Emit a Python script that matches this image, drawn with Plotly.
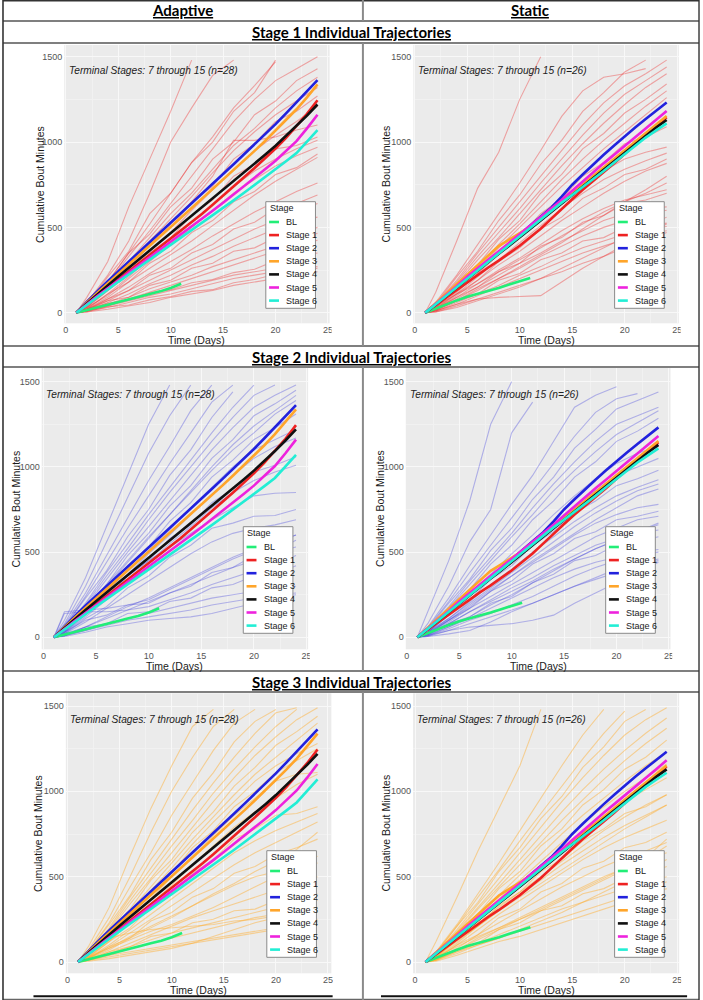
import plotly.graph_objects as go

# ---------------- data ----------------
DAYS = list(range(1, 25))
BL_DAYS = list(range(1, 12))
IND_DAYS = [1, 2, 4, 6, 8, 10, 12, 14, 16, 18, 20, 22, 24]
STAGE_NAMES = ["BL", "Stage 1", "Stage 2", "Stage 3", "Stage 4", "Stage 5", "Stage 6"]
X_TICKS = [0, 5, 10, 15, 20, 25]
Y_TICKS = [0, 500, 1000, 1500]

# Adaptive group mean trajectories
adaptive_bl = [0, 15, 30, 45, 62, 78, 94, 110, 125, 145, 170]
adaptive_s1 = [0, 50, 100, 148, 195, 242, 290, 338, 385, 432, 480, 530, 580, 632, 685, 738, 792, 848, 905, 962, 1025, 1092, 1165, 1245]
adaptive_s2 = [0, 65, 125, 185, 242, 298, 354, 410, 466, 522, 580, 638, 696, 754, 812, 870, 928, 986, 1045, 1105, 1168, 1232, 1297, 1363]
adaptive_s3 = [0, 60, 116, 172, 228, 283, 338, 393, 448, 502, 557, 612, 667, 722, 777, 833, 890, 948, 1006, 1066, 1127, 1192, 1262, 1338]
adaptive_s4 = [0, 55, 108, 160, 212, 263, 314, 365, 415, 465, 515, 565, 615, 666, 717, 768, 820, 872, 925, 978, 1035, 1093, 1155, 1220]
adaptive_s5 = [0, 50, 97, 143, 188, 233, 278, 323, 368, 413, 458, 504, 550, 597, 644, 692, 740, 790, 840, 890, 945, 1005, 1080, 1160]
adaptive_s6 = [0, 46, 92, 137, 181, 224, 267, 310, 353, 396, 439, 482, 526, 570, 614, 658, 703, 748, 794, 840, 887, 935, 1000, 1070]

# Static group mean trajectories
static_bl = [0, 25, 50, 72, 94, 110, 125, 145, 165, 185, 203]
static_s1 = [0, 45, 90, 135, 180, 225, 265, 305, 348, 392, 442, 492, 550, 610, 665, 720, 770, 820, 875, 930, 988, 1043, 1095, 1145]
static_s2 = [0, 50, 100, 150, 200, 250, 300, 350, 402, 458, 510, 562, 615, 680, 750, 810, 870, 925, 980, 1035, 1085, 1135, 1185, 1232]
static_s3 = [0, 55, 110, 165, 225, 280, 335, 390, 428, 465, 505, 550, 600, 650, 700, 750, 800, 855, 905, 955, 1005, 1055, 1105, 1152]
static_s4 = [0, 50, 100, 150, 200, 250, 300, 345, 392, 440, 490, 540, 590, 640, 690, 740, 790, 840, 890, 937, 985, 1035, 1085, 1129]
static_s5 = [0, 50, 100, 155, 210, 260, 310, 360, 410, 460, 505, 555, 605, 660, 715, 770, 825, 875, 925, 975, 1030, 1080, 1130, 1182]
static_s6 = [0, 50, 100, 150, 200, 250, 300, 350, 397, 445, 495, 545, 595, 645, 690, 735, 782, 830, 880, 930, 978, 1026, 1068, 1109]

# Individual trajectories (values at IND_DAYS; shorter lists leave the plot at the top)
adaptive_stage1_people = [
    [0, 90, 300, 620, 900, 1180, 1480],
    [0, 60, 220, 420, 700, 1000, 1200, 1390, 1480],
    [0, 50, 210, 360, 580, 700, 880, 1000, 1180, 1290, 1480],
    [0, 70, 180, 350, 520, 700, 880, 1030, 1200, 1330, 1470],
    [0, 40, 170, 330, 480, 640, 800, 960, 1120, 1250, 1360, 1430, 1500],
    [0, 70, 180, 350, 460, 620, 730, 900, 1000, 1160, 1240, 1360, 1430],
    [0, 30, 150, 300, 440, 580, 700, 840, 980, 1080, 1200, 1300, 1380],
    [0, 50, 160, 290, 420, 550, 680, 820, 950, 1060, 1160, 1240, 1320],
    [0, 40, 150, 250, 400, 500, 650, 740, 900, 990, 1120, 1180, 1270],
    [0, 35, 130, 240, 360, 470, 600, 720, 840, 950, 1040, 1120, 1210],
    [0, 45, 150, 280, 400, 520, 650, 800, 1010, 1010, 1030, 1070, 1100],
    [0, 30, 130, 220, 350, 440, 570, 660, 800, 870, 960, 980, 1030],
    [0, 20, 110, 210, 320, 420, 530, 630, 740, 830, 900, 960, 1010],
    [0, 30, 100, 200, 300, 400, 500, 600, 700, 780, 860, 920, 970],
    [0, 25, 110, 180, 290, 360, 470, 540, 650, 710, 810, 850, 930],
    [0, 20, 90, 180, 260, 340, 420, 510, 600, 690, 770, 840, 910],
    [0, 20, 80, 150, 230, 300, 370, 450, 520, 590, 650, 710, 760],
    [0, 15, 80, 130, 220, 260, 350, 400, 490, 530, 610, 640, 690],
    [0, 20, 70, 130, 190, 250, 310, 370, 430, 490, 540, 590, 640],
    [0, 10, 60, 110, 170, 220, 280, 330, 390, 440, 490, 530, 560],
    [0, 15, 70, 90, 160, 190, 260, 290, 360, 380, 440, 460, 500],
    [0, 10, 50, 90, 140, 180, 220, 270, 310, 350, 390, 430, 465],
    [0, 10, 40, 80, 120, 160, 200, 240, 280, 320, 360, 390, 425],
    [0, 20, 55, 75, 115, 135, 175, 195, 235, 255, 305, 325, 350],
    [0, 10, 40, 70, 100, 130, 160, 190, 220, 240, 260, 280, 300],
    [0, 10, 30, 60, 90, 110, 140, 170, 200, 220, 240, 260, 270],
    [0, 5, 35, 45, 75, 95, 125, 135, 175, 195, 225, 235, 260],
    [0, 5, 20, 40, 60, 90, 110, 130, 160, 180, 200, 220, 240],
]

adaptive_stage2_people = [
    [0, 100, 350, 650, 950, 1250, 1480],
    [0, 80, 300, 560, 820, 1080, 1300, 1480],
    [0, 70, 260, 480, 700, 920, 1120, 1330, 1480],
    [0, 60, 240, 440, 640, 830, 1020, 1200, 1380, 1480],
    [0, 60, 230, 390, 590, 750, 950, 1100, 1290, 1440],
    [0, 50, 200, 380, 550, 720, 880, 1040, 1200, 1350, 1480],
    [0, 50, 190, 360, 520, 690, 850, 1000, 1150, 1290, 1420, 1480],
    [0, 45, 180, 340, 500, 650, 800, 950, 1100, 1230, 1350, 1420, 1480],
    [0, 40, 180, 310, 480, 610, 770, 890, 1050, 1160, 1300, 1370, 1450],
    [0, 40, 160, 300, 440, 580, 720, 860, 1000, 1130, 1240, 1330, 1420],
    [0, 45, 170, 310, 450, 590, 720, 850, 980, 1100, 1200, 1310, 1390],
    [0, 40, 160, 270, 420, 530, 680, 790, 940, 1040, 1160, 1230, 1310],
    [0, 35, 140, 270, 390, 510, 630, 760, 880, 1000, 1100, 1160, 1220],
    [0, 30, 130, 250, 370, 490, 600, 720, 840, 950, 1050, 1120, 1170],
    [0, 30, 140, 230, 360, 450, 580, 660, 790, 870, 970, 1010, 1060],
    [0, 25, 120, 220, 330, 440, 550, 650, 760, 850, 920, 970, 1010],
    [0, 40, 150, 260, 360, 450, 530, 610, 690, 760, 830, 845, 850],
    [0, 20, 110, 180, 290, 360, 470, 540, 640, 670, 710, 715, 750],
    [0, 20, 90, 170, 250, 330, 410, 490, 560, 610, 640, 660, 690],
    [0, 150, 160, 170, 190, 220, 280, 340, 400, 460, 510, 550, 600],
    [0, 30, 100, 130, 190, 200, 260, 300, 380, 410, 480, 510, 570],
    [0, 10, 60, 110, 160, 210, 260, 310, 360, 410, 450, 500, 530],
    [0, 140, 150, 150, 160, 180, 220, 260, 310, 350, 390, 430, 480],
    [0, 20, 60, 80, 140, 150, 210, 230, 290, 310, 360, 370, 420],
    [0, 10, 40, 80, 110, 140, 170, 200, 230, 250, 270, 290, 300],
    [0, 10, 40, 70, 100, 120, 140, 160, 190, 210, 230, 250, 260],
    [0, 5, 30, 60, 80, 100, 110, 120, 140, 170, 200, 230, 250],
    [0, 10, 60, 120, 180, 230, 290, 350, 410, 470, 520, 560, 600],
]

adaptive_stage3_people = [
    [0, 90, 320, 620, 900, 1150, 1380, 1480],
    [0, 70, 260, 500, 760, 1000, 1200, 1380, 1480],
    [0, 60, 230, 440, 640, 860, 1050, 1240, 1400, 1480],
    [0, 60, 220, 390, 600, 760, 960, 1110, 1290, 1410, 1480],
    [0, 50, 200, 380, 550, 720, 890, 1050, 1200, 1340, 1460, 1490],
    [0, 50, 190, 360, 520, 680, 830, 990, 1130, 1260, 1380, 1480],
    [0, 45, 180, 340, 490, 640, 790, 940, 1080, 1210, 1320, 1420, 1490],
    [0, 40, 180, 310, 480, 600, 760, 880, 1030, 1140, 1270, 1350, 1440],
    [0, 40, 160, 300, 440, 580, 720, 850, 980, 1100, 1200, 1300, 1400],
    [0, 40, 150, 290, 420, 550, 690, 820, 940, 1060, 1150, 1220, 1280],
    [0, 35, 150, 260, 410, 520, 670, 770, 910, 1000, 1110, 1180, 1250],
    [0, 30, 130, 250, 370, 500, 620, 740, 860, 960, 1060, 1100, 1110],
    [0, 30, 120, 230, 340, 450, 570, 680, 790, 880, 960, 1040, 1100],
    [0, 25, 120, 200, 320, 400, 520, 600, 720, 780, 860, 870, 910],
    [0, 25, 100, 190, 280, 370, 460, 550, 640, 710, 770, 820, 870],
    [0, 20, 90, 170, 250, 330, 410, 490, 570, 640, 700, 760, 820],
    [0, 20, 90, 140, 240, 290, 380, 430, 520, 560, 630, 670, 720],
    [0, 20, 70, 140, 200, 260, 330, 390, 450, 500, 530, 560, 580],
    [0, 15, 60, 110, 160, 210, 260, 300, 340, 380, 420, 470, 500],
    [0, 15, 60, 90, 150, 170, 230, 250, 300, 310, 360, 370, 400],
    [0, 10, 50, 90, 130, 170, 200, 230, 260, 290, 320, 340, 360],
    [0, 10, 40, 80, 110, 140, 170, 200, 230, 260, 280, 300, 320],
    [0, 60, 140, 170, 190, 200, 210, 220, 240, 250, 270, 290, 300],
    [0, 10, 40, 60, 80, 100, 120, 140, 160, 180, 200, 220, 250],
    [0, 10, 30, 50, 70, 90, 110, 130, 150, 170, 190, 210, 240],
    [0, 5, 20, 40, 60, 80, 110, 150, 190, 230, 260, 280, 290],
    [0, 30, 80, 130, 180, 220, 270, 320, 380, 440, 500, 560, 620],
    [0, 20, 80, 150, 210, 270, 330, 400, 460, 530, 590, 660, 760],
]

static_stage1_people = [
    [0, 120, 420, 730, 940, 1250, 1500],
    [0, 60, 220, 400, 580, 760, 950, 1150, 1300, 1380, 1400, 1430],
    [0, 50, 210, 360, 540, 690, 870, 1010, 1180, 1290, 1410, 1480],
    [0, 50, 190, 350, 500, 650, 800, 950, 1100, 1230, 1330, 1400, 1480],
    [0, 45, 180, 330, 470, 610, 760, 900, 1040, 1170, 1280, 1360, 1440],
    [0, 40, 170, 310, 440, 580, 720, 860, 990, 1110, 1220, 1320, 1400],
    [0, 40, 170, 280, 430, 540, 700, 810, 960, 1050, 1170, 1250, 1340],
    [0, 35, 150, 270, 400, 520, 650, 780, 900, 1010, 1110, 1210, 1300],
    [0, 30, 140, 260, 380, 500, 620, 740, 850, 960, 1060, 1160, 1260],
    [0, 30, 140, 230, 360, 450, 580, 670, 800, 880, 990, 1030, 1090],
    [0, 30, 120, 230, 340, 450, 550, 650, 750, 830, 900, 940, 970],
    [0, 25, 110, 210, 310, 410, 510, 610, 700, 780, 840, 890, 935],
    [0, 25, 110, 190, 300, 380, 490, 560, 670, 730, 810, 840, 900],
    [0, 20, 100, 190, 280, 360, 450, 540, 620, 700, 770, 830, 875],
    [0, 20, 90, 170, 250, 320, 400, 480, 550, 610, 660, 690, 720],
    [0, 20, 90, 150, 240, 290, 390, 440, 530, 570, 640, 660, 700],
    [0, 15, 80, 150, 220, 290, 350, 420, 480, 540, 580, 610, 620],
    [0, 15, 70, 140, 200, 260, 330, 390, 450, 500, 540, 580, 600],
    [0, 15, 70, 110, 190, 230, 310, 350, 420, 440, 500, 505, 525],
    [0, 10, 60, 110, 160, 220, 270, 330, 380, 420, 460, 490, 505],
    [0, 10, 50, 100, 150, 200, 250, 300, 350, 390, 430, 460, 480],
    [0, 5, 40, 80, 120, 160, 200, 240, 290, 330, 380, 420, 470],
    [0, 10, 50, 80, 90, 95, 100, 180, 260, 330, 400, 460, 520],
    [0, 40, 110, 170, 240, 310, 380, 450, 520, 590, 650, 700, 760],
    [0, 5, 30, 70, 110, 150, 200, 260, 320, 380, 440, 500, 560],
    [0, 20, 70, 130, 200, 270, 340, 410, 490, 570, 650, 720, 800],
]

static_stage2_people = [
    [0, 150, 450, 800, 1250, 1500],
    [0, 80, 300, 560, 750, 1200, 1380],
    [0, 60, 230, 420, 600, 780, 950, 1150, 1350, 1420, 1470],
    [0, 55, 210, 380, 540, 700, 860, 1020, 1180, 1320, 1400, 1430],
    [0, 50, 200, 340, 510, 640, 810, 940, 1110, 1220, 1340, 1390, 1440],
    [0, 45, 180, 330, 470, 610, 760, 900, 1030, 1150, 1250, 1300, 1350],
    [0, 40, 170, 310, 450, 590, 720, 860, 980, 1090, 1190, 1260, 1330],
    [0, 40, 170, 280, 430, 540, 690, 800, 940, 1030, 1150, 1210, 1285],
    [0, 30, 140, 260, 370, 490, 600, 720, 830, 930, 1020, 1080, 1120],
    [0, 30, 130, 240, 350, 460, 570, 670, 770, 860, 950, 1000, 1050],
    [0, 30, 130, 220, 340, 420, 540, 620, 730, 800, 890, 930, 980],
    [0, 25, 110, 210, 310, 400, 500, 590, 680, 760, 830, 880, 925],
    [0, 20, 100, 190, 280, 360, 440, 520, 600, 670, 720, 760, 780],
    [0, 20, 100, 170, 270, 330, 430, 490, 580, 620, 690, 710, 740],
    [0, 20, 90, 170, 240, 310, 380, 450, 520, 590, 640, 690, 710],
    [0, 15, 80, 150, 220, 290, 350, 420, 480, 540, 580, 610, 630],
    [0, 15, 80, 120, 200, 240, 320, 370, 450, 480, 540, 560, 590],
    [0, 10, 60, 110, 170, 230, 290, 350, 400, 440, 470, 500, 515],
    [0, 10, 50, 100, 140, 190, 240, 300, 360, 410, 450, 480, 500],
    [0, 5, 40, 80, 120, 160, 200, 250, 300, 350, 400, 430, 460],
    [0, 5, 20, 40, 90, 150, 200, 250, 300, 340, 380, 420, 450],
    [0, 10, 40, 60, 70, 80, 100, 130, 200, 260, 320, 380, 440],
    [0, 20, 80, 150, 210, 270, 330, 400, 460, 520, 570, 620, 670],
    [0, 30, 110, 200, 290, 380, 470, 560, 650, 730, 800, 860, 900],
    [0, 15, 60, 120, 190, 250, 320, 390, 460, 520, 570, 620, 660],
    [0, 25, 100, 180, 270, 360, 450, 530, 610, 690, 760, 830, 870],
]

static_stage3_people = [
    [0, 120, 380, 650, 900, 1150, 1480],
    [0, 60, 220, 400, 580, 770, 960, 1150, 1330, 1480],
    [0, 55, 210, 380, 540, 710, 870, 1030, 1190, 1340, 1470],
    [0, 50, 210, 350, 530, 670, 840, 970, 1140, 1260, 1410, 1480],
    [0, 50, 190, 340, 490, 640, 790, 940, 1080, 1210, 1330, 1420, 1490],
    [0, 45, 180, 320, 460, 600, 740, 880, 1010, 1130, 1240, 1340, 1430],
    [0, 40, 170, 310, 440, 570, 700, 830, 950, 1070, 1180, 1280, 1370],
    [0, 40, 170, 280, 430, 530, 680, 780, 920, 1010, 1130, 1200, 1300],
    [0, 35, 150, 270, 390, 510, 630, 750, 860, 960, 1060, 1150, 1230],
    [0, 30, 140, 260, 370, 480, 590, 700, 810, 910, 1000, 1080, 1160],
    [0, 30, 130, 240, 350, 450, 560, 660, 760, 850, 940, 1010, 1080],
    [0, 25, 130, 210, 330, 410, 530, 600, 710, 780, 870, 910, 980],
    [0, 25, 110, 210, 300, 390, 480, 570, 650, 730, 800, 860, 920],
    [0, 20, 100, 190, 280, 360, 440, 520, 600, 670, 730, 780, 830],
    [0, 20, 100, 160, 260, 310, 410, 460, 550, 590, 670, 700, 760],
    [0, 15, 80, 160, 230, 300, 370, 440, 500, 560, 610, 650, 700],
    [0, 15, 70, 140, 200, 260, 320, 380, 440, 500, 550, 600, 640],
    [0, 10, 70, 110, 190, 230, 300, 330, 400, 430, 490, 510, 560],
    [0, 10, 60, 110, 160, 210, 260, 310, 350, 390, 430, 470, 500],
    [0, 10, 50, 100, 140, 180, 220, 260, 300, 340, 380, 420, 470],
    [0, 5, 40, 80, 120, 150, 190, 230, 270, 310, 350, 390, 430],
    [0, 30, 90, 150, 200, 250, 300, 360, 420, 480, 540, 600, 680],
    [0, 20, 70, 130, 190, 250, 310, 370, 430, 490, 550, 610, 720],
    [0, 15, 60, 100, 140, 190, 240, 290, 350, 410, 470, 530, 600],
    [0, 40, 130, 230, 320, 410, 500, 590, 680, 770, 850, 920, 980],
    [0, 35, 120, 210, 300, 380, 460, 540, 620, 700, 780, 850, 920],
]

adaptive_means = [adaptive_bl, adaptive_s1, adaptive_s2, adaptive_s3, adaptive_s4, adaptive_s5, adaptive_s6]
static_means = [static_bl, static_s1, static_s2, static_s3, static_s4, static_s5, static_s6]

# ---------------- style / layout ----------------
W, H = 703, 1000
STAGE_COLORS = ["#22EE77", "#EE2222", "#2222DD", "#FFA52A", "#111111", "#EE22DD", "#22EED5"]
IND_COLORS = {"red": "rgba(238,50,50,0.40)", "blue": "rgba(60,60,220,0.34)", "orange": "rgba(255,170,40,0.45)"}
FONT = "Liberation Sans, Arial, sans-serif"
HEAD_FONT = "Lato, Open Sans, sans-serif"

PANELS = [
    dict(people=adaptive_stage1_people, means=adaptive_means, col="red", n=28,
         left=62.7, right=330, top=45, bottom=323.3, x0=64.3, x25=328.3, y0=312.7, y1500=56.7,
         leg=(265.7, 201.7), ytitle_x=38, clip=332, div=361),
    dict(people=static_stage1_people, means=static_means, col="red", n=26,
         left=414.3, right=681.7, top=45, bottom=323.3, x0=415.7, x25=680, y0=312.7, y1500=56.7,
         leg=(617, 201.7), ytitle_x=387, clip=683.5, div=700),
    dict(people=adaptive_stage2_people, means=adaptive_means, col="blue", n=28,
         left=40, right=308.3, top=368, bottom=649.3, x0=41.7, x25=306.7, y0=637.3, y1500=381.7,
         leg=(243, 526.7), ytitle_x=14, clip=310, div=361),
    dict(people=static_stage2_people, means=static_means, col="blue", n=26,
         left=406.7, right=673.3, top=368, bottom=649.3, x0=407.7, x25=671.7, y0=637.3, y1500=381.7,
         leg=(608, 526.7), ytitle_x=380, clip=675, div=700),
    dict(people=adaptive_stage3_people, means=adaptive_means, col="orange", n=28,
         left=64.3, right=331.7, top=693.3, bottom=973.3, x0=66, x25=328.3, y0=962, y1500=706,
         leg=(266.7, 850.7), ytitle_x=37, clip=333.5, div=361),
    dict(people=static_stage3_people, means=static_means, col="orange", n=26,
         left=414, right=682, top=693.3, bottom=973.3, x0=416, x25=680, y0=962, y1500=706,
         leg=(617, 850.7), ytitle_x=387, clip=684, div=700),
]


def px(x):
    return x / W


def py(y):
    return 1 - y / H


fig = go.Figure()
shapes = []
annotations = []

for i, p in enumerate(PANELS, start=1):
    xa = "x" if i == 1 else f"x{i}"
    ya = "y" if i == 1 else f"y{i}"
    sx = (p["x25"] - p["x0"]) / 25.0
    sy = (p["y0"] - p["y1500"]) / 1500.0
    xr = [(p["left"] - p["x0"]) / sx, (p["right"] - p["x0"]) / sx]
    yr = [(p["y0"] - p["bottom"]) / sy, (p["y0"] - p["top"]) / sy]

    axis_common = dict(showline=False, zeroline=False, gridcolor="#F8F8F8", gridwidth=1,
                       ticks="", tickfont=dict(family=FONT, size=9, color="#555555"),
                       fixedrange=True)
    fig.update_layout(**{
        ("xaxis" if i == 1 else f"xaxis{i}"): dict(
            axis_common, domain=[px(p["left"]), px(p["right"])], range=xr, anchor=ya,
            tickvals=X_TICKS, ticktext=[str(v) for v in X_TICKS],
            minor=dict(tickvals=[2.5, 7.5, 12.5, 17.5, 22.5], showgrid=True, gridcolor="#F1F1F1", gridwidth=0.6)),
        ("yaxis" if i == 1 else f"yaxis{i}"): dict(
            axis_common, domain=[py(p["bottom"]), py(p["top"])], range=yr, anchor=xa,
            tickvals=Y_TICKS, ticktext=[str(v) for v in Y_TICKS], ticklabelstandoff=1,
            minor=dict(tickvals=[250, 750, 1250], showgrid=True, gridcolor="#F1F1F1", gridwidth=0.6)),
    })

    # individual trajectories
    for vals in p["people"]:
        fig.add_trace(go.Scatter(x=IND_DAYS[:len(vals)], y=vals, mode="lines", xaxis=xa, yaxis=ya,
                                 line=dict(color=IND_COLORS[p["col"]], width=1.1), showlegend=False,
                                 hoverinfo="skip"))
    # stage mean trajectories
    for k, vals in enumerate(p["means"]):
        xs = BL_DAYS if k == 0 else DAYS
        fig.add_trace(go.Scatter(x=xs, y=vals, mode="lines", xaxis=xa, yaxis=ya, name=STAGE_NAMES[k],
                                 line=dict(color=STAGE_COLORS[k], width=2.6), showlegend=False))

    # panel texts
    annotations.append(dict(x=px(p["left"] + 2.3), y=py(p["top"] + 26), xref="paper", yref="paper",
                            text=f"<i>Terminal Stages: 7 through 15 (n={p['n']})</i>", showarrow=False,
                            xanchor="left", yanchor="middle", font=dict(family=FONT, size=10.2, color="#222222")))
    annotations.append(dict(x=px((p["left"] + p["right"]) / 2), y=py(p["bottom"] + 16.5), xref="paper", yref="paper",
                            text="Time (Days)", showarrow=False, xanchor="center", yanchor="middle",
                            font=dict(family=FONT, size=10.5, color="#1a1a1a")))
    annotations.append(dict(x=px(p["ytitle_x"]), y=py((p["top"] + p["bottom"]) / 2), xref="paper", yref="paper",
                            text="Cumulative Bout Minutes", showarrow=False, textangle=-90,
                            xanchor="center", yanchor="middle", font=dict(family=FONT, size=10.5, color="#1a1a1a")))

    # cropped edge of the original picture (hides right half of the last tick label)
    shapes.append(dict(type="rect", xref="paper", yref="paper", x0=px(p["clip"]), x1=px(p["div"]),
                       y0=py(p["bottom"] + 14), y1=py(p["bottom"] + 0.5), fillcolor="white",
                       line=dict(width=0), layer="above"))

    # legend box
    lx, ly = p["leg"]
    shapes.append(dict(type="rect", xref="paper", yref="paper", x0=px(lx), x1=px(lx + 50),
                       y0=py(ly + 106.6), y1=py(ly), fillcolor="white",
                       line=dict(color="#8a8a8a", width=1), layer="above"))
    annotations.append(dict(x=px(lx + 2), y=py(ly + 6.5), xref="paper", yref="paper", text="Stage",
                            showarrow=False, xanchor="left", yanchor="middle",
                            font=dict(family=FONT, size=9, color="#1a1a1a")))
    for k, name in enumerate(STAGE_NAMES):
        yy = ly + 20.3 + k * 13.1
        shapes.append(dict(type="line", xref="paper", yref="paper", x0=px(lx + 3.3), x1=px(lx + 13.3),
                           y0=py(yy), y1=py(yy), line=dict(color=STAGE_COLORS[k], width=2.6), layer="above"))
        annotations.append(dict(x=px(lx + 18.5), y=py(yy), xref="paper", yref="paper", text=name,
                                showarrow=False, xanchor="left", yanchor="middle",
                                font=dict(family=FONT, size=9, color="#1a1a1a")))

# ---------------- table frame ----------------
def hline(y, x0=1, x1=702, color="#555555", width=1.5):
    shapes.append(dict(type="line", xref="paper", yref="paper", x0=px(x0), x1=px(x1), y0=py(y), y1=py(y),
                       line=dict(color=color, width=width), layer="above"))


def vline(x, y0, y1, color="#555555", width=1.5):
    shapes.append(dict(type="line", xref="paper", yref="paper", x0=px(x), x1=px(x), y0=py(y0), y1=py(y1),
                       line=dict(color=color, width=width), layer="above"))


hline(0.7, color="#333333", width=1.4)
for yline in [21, 43, 346, 367, 671, 692]:
    hline(yline)
hline(999.3, color="#666666", width=1.2)
vline(1, 0, 1000, color="#333333", width=1.6)
vline(702, 0, 1000, color="#333333", width=1.4)
for (a, b) in [(0, 21), (43, 346), (367, 671), (692, 1000)]:
    vline(363.5, a, b, color="#8a8a8a", width=2)
hline(996.3, x0=31.7, x1=333, color="#111111", width=2)
hline(996.3, x0=381.7, x1=690, color="#111111", width=2)

# headers
HEADERS = [("Adaptive", 182, 10.5), ("Static", 532, 10.5),
           ("Stage 1 Individual Trajectories", 352, 32),
           ("Stage 2 Individual Trajectories", 352, 356.5),
           ("Stage 3 Individual Trajectories", 352, 681.5)]
for txt, hx, hy in HEADERS:
    annotations.append(dict(x=px(hx), y=py(hy), xref="paper", yref="paper", text=f"<b><u>{txt}</u></b>",
                            showarrow=False, xanchor="center", yanchor="middle",
                            font=dict(family=HEAD_FONT, size=15, color="#000000")))

fig.update_layout(width=W, height=H, autosize=False, margin=dict(l=0, r=0, t=0, b=0),
                  paper_bgcolor="white", plot_bgcolor="#EBEBEB", showlegend=False,
                  shapes=shapes, annotations=annotations)

fig.write_html("out.html", config={"displayModeBar": False},
               post_script="document.body.style.margin='0px';document.body.style.padding='0px';")
